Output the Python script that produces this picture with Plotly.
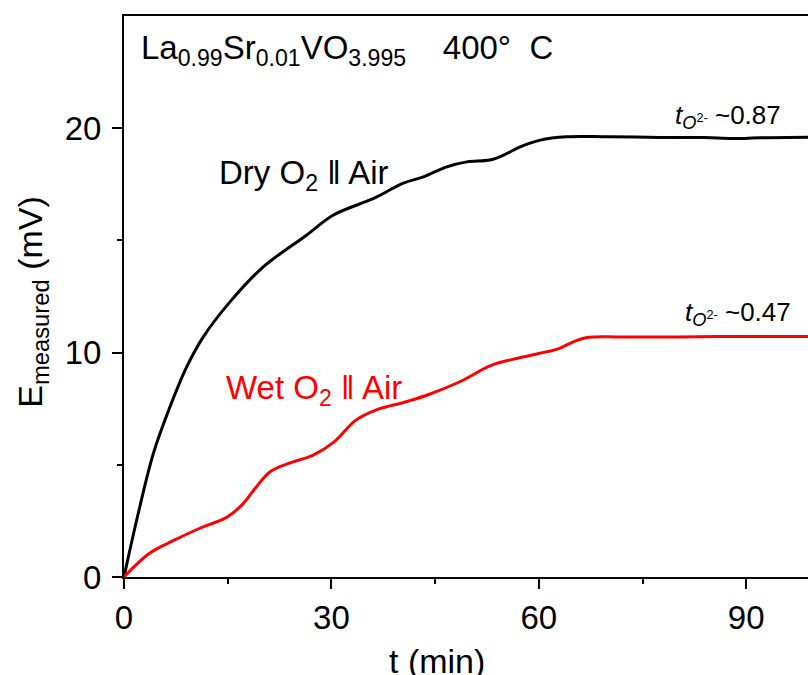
import plotly.graph_objects as go

# Time axis (min) and measured EMF (mV) for the two gas conditions
t_dry = [0, 1.83, 4.24, 6.65, 9.07, 11.47, 15.33, 20.15, 26.4, 30.3, 36.1, 40.4,
         43.3, 46.7, 49.6, 52.9, 54.9, 57.3, 60.2, 64.0, 70.0, 77.5, 84.0, 88.0,
         92.0, 96.0, 99.5]
e_dry = [0, 2.53, 5.5, 7.58, 9.36, 10.7, 12.26, 13.82, 15.23, 16.13, 16.87, 17.55,
         17.83, 18.28, 18.5, 18.58, 18.8, 19.17, 19.47, 19.62, 19.62, 19.59, 19.58, 19.54,
         19.57, 19.58, 19.6]

t_wet = [0, 3.6, 7.2, 10.8, 14.9, 17.0, 19.1, 21.1, 23.7, 27.3, 30.4, 33.5, 36.6,
         40.7, 43.8, 48.5, 53.1, 56.2, 60.0, 62.9, 65.0, 67.0, 71.6, 80.0, 90.0, 99.5]
e_wet = [0, 1.04, 1.63, 2.15, 2.67, 3.19, 4.0, 4.68, 5.05, 5.42, 6.02, 6.98, 7.46,
         7.8, 8.1, 8.69, 9.43, 9.7, 9.96, 10.18, 10.48, 10.67, 10.7, 10.7, 10.72, 10.72]

x_ticks = [0, 30, 60, 90]
y_ticks = [0, 10, 20]

FONT = "Arial, Liberation Sans, sans-serif"
NB = "\u00a0"

fig = go.Figure()
fig.add_trace(go.Scatter(x=t_dry, y=e_dry, mode="lines",
                         line=dict(color="black", width=3, shape="spline", smoothing=1.0),
                         showlegend=False))
fig.add_trace(go.Scatter(x=t_wet, y=e_wet, mode="lines",
                         line=dict(color="#ff0000", width=3, shape="spline", smoothing=1.0),
                         showlegend=False))

axis_common = dict(
    showgrid=False, zeroline=False, showline=True, linecolor="black", linewidth=2,
    ticks="outside", ticklen=10, tickwidth=2, tickcolor="black",
    tickfont=dict(family=FONT, size=33, color="black"),
)

fig.update_xaxes(range=[0, 98.94], tickvals=x_ticks, mirror=True,
                 minor=dict(tickvals=[15, 45, 75], ticklen=5, tickwidth=2,
                            tickcolor="black", ticks="outside"),
                 ticklabelstandoff=0, **axis_common)
fig.update_yaxes(range=[0, 25], tickvals=y_ticks,
                 minor=dict(tickvals=[5, 15], ticklen=5, tickwidth=2,
                            tickcolor="black", ticks="outside"),
                 ticklabelstandoff=4, **axis_common)

anns = [
    dict(x=2.17, y=23.5, xref="x", yref="y", xanchor="left", yanchor="middle",
         text="La<sub>0.99</sub>Sr<sub>0.01</sub>VO<sub>3.995</sub>" + NB * 4
              + "400°" + NB * 2 + "C",
         font=dict(size=33)),
    dict(x=13.45, y=17.9, xref="x", yref="y", xanchor="left", yanchor="middle",
         text="Dry O<sub>2</sub> ‖ Air", font=dict(size=33, color="black")),
    dict(x=14.4, y=8.35, xref="x", yref="y", xanchor="left", yanchor="middle",
         text="Wet O<sub>2</sub> ‖ Air", font=dict(size=33, color="#ff0000")),
    dict(x=95.3, y=20.5, xref="x", yref="y", xanchor="right", yanchor="middle",
         text="<i>t</i><sub><i>O</i><sup>2-</sup></sub> ~0.87", font=dict(size=26)),
    dict(x=96.8, y=11.75, xref="x", yref="y", xanchor="right", yanchor="middle",
         text="<i>t</i><sub><i>O</i><sup>2-</sup></sub> ~0.47", font=dict(size=26)),
    dict(x=-0.135, y=0.49, xref="paper", yref="paper", xanchor="center", yanchor="middle",
         textangle=-90, text="E<sub>measured</sub> (mV)", font=dict(size=34)),
    dict(x=0.4576, y=-0.112, xref="paper", yref="paper", xanchor="center", yanchor="top",
         text="t (min)", font=dict(size=34)),
]
for a in anns:
    a["showarrow"] = False
    a["font"].setdefault("color", "black")
    a["font"]["family"] = FONT
    fig.add_annotation(**a)

fig.update_layout(
    width=808, height=675,
    margin=dict(l=124, r=0, t=16, b=98, pad=0),
    paper_bgcolor="white", plot_bgcolor="white",
    font=dict(family=FONT, color="black"),
)

fig.write_html("out.html")
